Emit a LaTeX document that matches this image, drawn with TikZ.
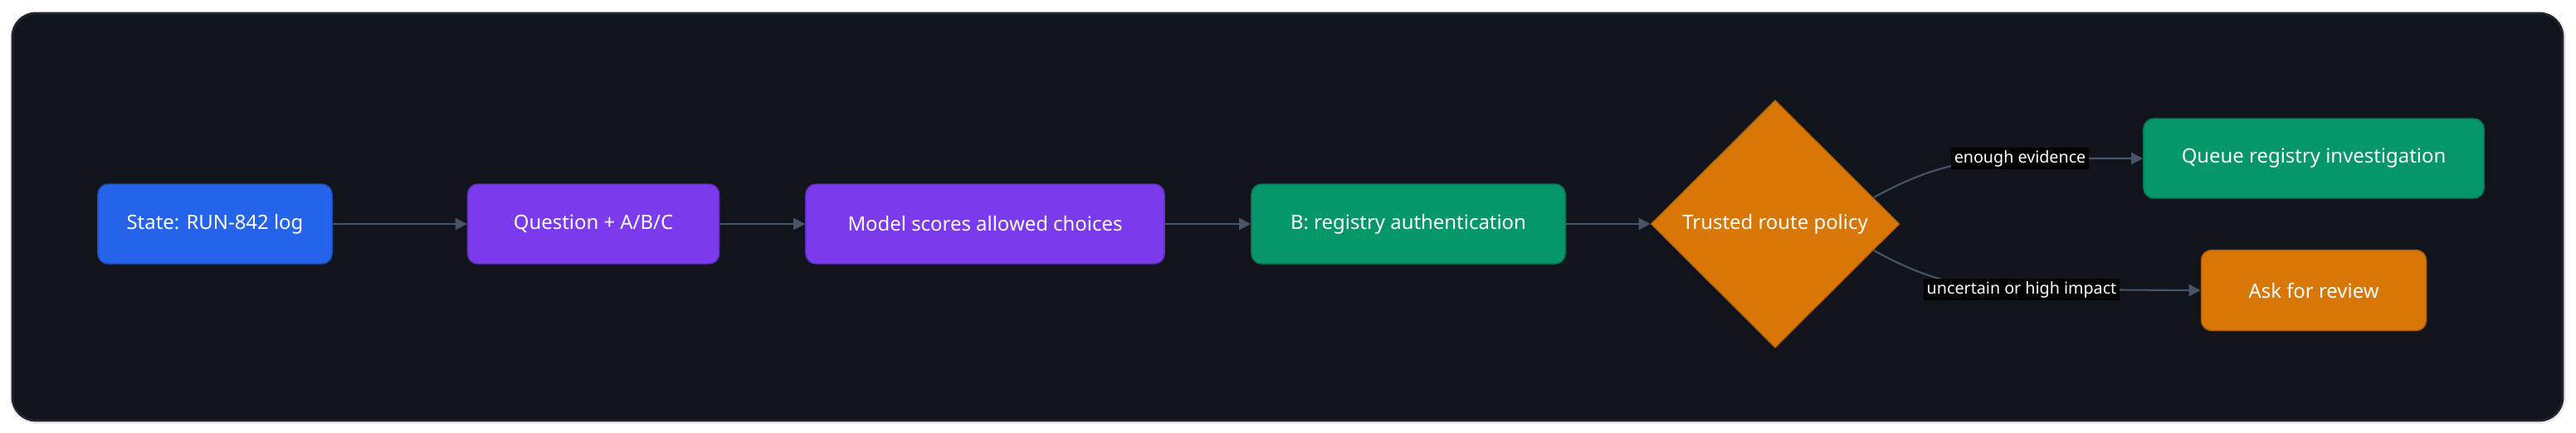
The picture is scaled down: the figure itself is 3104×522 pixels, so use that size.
\documentclass[tikz,border=0pt]{standalone}
\usepackage{fontspec}
\setmainfont{Noto Sans}
\usetikzlibrary{shapes.geometric,arrows.meta}
\definecolor{bg}{HTML}{12141C}
\definecolor{pan}{HTML}{1F2430}
\definecolor{cblue}{HTML}{2563EB}
\definecolor{cpurp}{HTML}{7C3AED}
\definecolor{cgreen}{HTML}{059669}
\definecolor{corange}{HTML}{D97706}
\definecolor{edge}{HTML}{475569}
\begin{document}
\begin{tikzpicture}[x=0.01cm,y=-0.01cm,
  box/.style={rounded corners=3.5pt,text=white,font=\fontsize{6.8pt}{8pt}\selectfont,inner sep=0pt},
  lab/.style={fill=black!85!bg,text=white,font=\fontsize{5.6pt}{7pt}\selectfont,inner sep=1pt},
  arr/.style={draw=edge,line width=0.6pt,-{Triangle[length=4pt,width=4pt]}}]
\useasboundingbox (0,0) rectangle (3104,522);
\fill[white] (0,0) rectangle (3104,522);
\fill[black!8,rounded corners=9pt] (12,14) rectangle (3092,511);
\fill[bg,draw=pan,line width=0.8pt,rounded corners=8pt] (15,16) rectangle (3088,507);
\node[box,fill=cblue,draw=cblue!80!black,minimum width=282\pgflinewidth*0+2.82cm,minimum height=0.96cm] (s) at (259,270) {State: RUN-842 log};
\node[box,fill=cpurp,draw=cpurp!80!black,minimum width=3.03cm,minimum height=0.96cm] (q) at (715,270) {Question + A/B/C};
\node[box,fill=cpurp,draw=cpurp!80!black,minimum width=4.32cm,minimum height=0.96cm] (m) at (1187,270) {Model scores allowed choices};
\node[box,fill=cgreen,draw=cgreen!80!black,minimum width=3.78cm,minimum height=0.96cm] (b) at (1697,270) {B: registry authentication};
\node[diamond,aspect=1,fill=corange,draw=corange!85!black,text=white,font=\fontsize{6.8pt}{8pt}\selectfont,inner sep=0pt,minimum width=2.99cm,minimum height=2.98cm] (d) at (2139,270) {Trusted route policy};
\node[box,fill=cgreen,draw=cgreen!80!black,minimum width=4.10cm,minimum height=0.96cm] (g) at (2788,191) {Queue registry investigation};
\node[box,fill=corange,draw=corange!80!black,minimum width=2.71cm,minimum height=0.97cm] (r) at (2788,350) {Ask for review};
\draw[arr] (s) -- (q);
\draw[arr] (q) -- (m);
\draw[arr] (m) -- (b);
\draw[arr] (b) -- (d);
\coordinate (c1) at (2440,191);
\coordinate (c2) at (2440,349);
\draw[arr] (2258,238) .. controls (2330,198) and (2380,191) .. (c1) -- (g.west);
\draw[arr] (2258,302) .. controls (2330,342) and (2380,349) .. (c2) -- (r.west);
\node[lab] (l1) at (2434,191) {enough evidence};
\node[lab] (l2) at (2436,349) {uncertain or high impact};
\end{tikzpicture}
\end{document}
